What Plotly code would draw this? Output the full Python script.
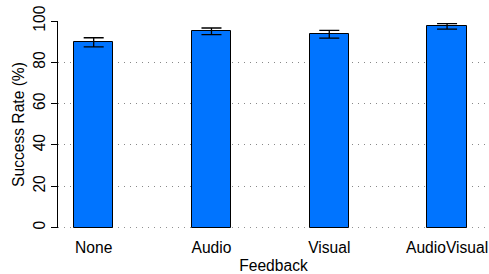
import plotly.graph_objects as go

categories = ["None", "Audio", "Visual", "AudioVisual"]
success = [89.7, 95.0, 93.6, 97.4]
err = [2.2, 1.6, 1.9, 1.3]
y_ticks = [0, 20, 40, 60, 80, 100]

FONT = "Liberation Sans, Arial, sans-serif"
FS = 15.6
GRID = "#888888"
DASH = "1px,5px"

fig = go.Figure()
fig.add_trace(go.Bar(
    x=list(range(len(categories))),
    y=success,
    width=0.335,
    marker=dict(color="#0074FF", line=dict(color="black", width=1)),
    error_y=dict(type="data", array=err, visible=True, color="black", thickness=1.3, width=10),
))

# dotted gridline at zero (plotly drops the grid line on the range edge)
fig.add_shape(type="line", xref="paper", x0=0, x1=1, yref="y", y0=0, y1=0,
              line=dict(color=GRID, width=1, dash=DASH), layer="below")

fig.update_layout(
    width=489, height=274,
    margin=dict(l=58, r=0, t=21, b=46),
    plot_bgcolor="white", paper_bgcolor="white",
    font=dict(family=FONT, size=FS, color="black"),
    showlegend=False,
    xaxis=dict(
        range=[-0.303, 3.356],
        tickvals=list(range(len(categories))),
        ticktext=categories,
        showgrid=False, zeroline=False, showline=False,
        ticks="", ticklabelstandoff=8,
        ticklabeloverflow="allow",
        automargin=False,
        title=dict(text="Feedback", standoff=6, font=dict(size=FS)),
        tickfont=dict(size=FS),
    ),
    yaxis=dict(
        range=[-0.2, 100],
        tickvals=y_ticks,
        ticktext=[str(v) for v in y_ticks],
        tickangle=-90,
        showline=True, linecolor="black", linewidth=1,
        ticks="outside", ticklen=6, tickcolor="black",
        showgrid=True, gridcolor=GRID, griddash=DASH, gridwidth=1,
        zeroline=False,
        automargin=False,
        title=dict(text="Success Rate (%)", standoff=2, font=dict(size=FS)),
        tickfont=dict(size=FS),
    ),
    bargap=0,
)

fig.write_html(
    "out.html",
    config={"displayModeBar": False},
    post_script="document.body.style.margin='0';document.body.style.overflow='hidden';",
)
